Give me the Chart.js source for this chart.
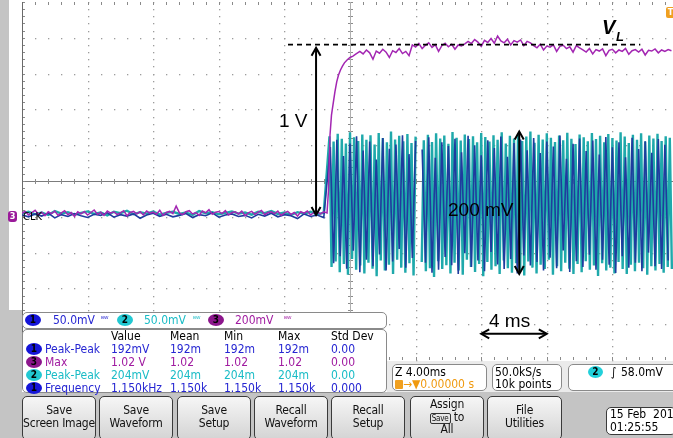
<!DOCTYPE html>
<html><head><meta charset="utf-8">
<script src="https://cdn.jsdelivr.net/npm/chart.js@4"></script>
<style>
html,body{margin:0;padding:0;background:#fff;}
#wrap{position:relative;width:673px;height:438px;overflow:hidden;background:#fff;font-family:"DejaVu Sans Condensed","DejaVu Sans",sans-serif;}
canvas{position:absolute;left:0;top:0;}
.g{position:absolute;background:#c4c4c4;}
.t{position:absolute;white-space:nowrap;line-height:14px;font-size:12px;}
.box{position:absolute;background:#fff;border:1px solid #8a8a8a;border-radius:5px;box-sizing:border-box;}
.btn{position:absolute;top:396px;height:44px;border:1.5px solid #3a3a3a;border-radius:5px;background:linear-gradient(#f6f6f6,#d4d4d4);box-sizing:border-box;text-align:center;font-size:12px;line-height:12.5px;padding-top:7px;color:#111;white-space:nowrap;letter-spacing:-0.2px;}
.ov{position:absolute;border-radius:50%;width:16px;height:12px;font-size:10px;line-height:12px;text-align:center;font-weight:bold;color:#000;}
.ann{position:absolute;font-family:"Liberation Sans",Arial,sans-serif;font-size:19px;color:#000;white-space:nowrap;line-height:20px;}
.b{color:#2626d2}.m{color:#a01aa0}.c{color:#19bcc6}
</style></head>
<body><div id="wrap">
<div class="g" style="left:0;top:0;width:9px;height:438px"></div>
<div class="g" style="left:0;top:310px;width:22px;height:128px"></div>
<div style="position:absolute;left:387px;top:361px;width:286px;height:31px;background:#ebebeb"></div>
<div class="g" style="left:0;top:392px;width:673px;height:46px"></div>
<canvas id="c" width="673" height="438"></canvas>

<!-- markers -->
<div style="position:absolute;left:8px;top:211px;width:9px;height:11px;background:#9a1a9a;border-radius:3px;color:#fff;font-size:9px;line-height:11px;text-align:center;font-weight:bold">3</div>
<div class="t" style="left:23px;top:210px;font-size:11px;line-height:13px;color:#000">CLK</div>
<div style="position:absolute;left:666px;top:7px;width:9px;height:11px;background:#f0a020;border-radius:2px;color:#fff;font-size:9px;line-height:11px;text-align:center;font-weight:bold">T</div>

<!-- annotations -->
<div class="ann" style="left:279px;top:111px">1 V</div>
<div class="ann" style="left:448px;top:200px">200 mV</div>
<div class="ann" style="left:489px;top:311px">4 ms</div>
<div class="ann" style="left:602px;top:17px;font-weight:bold;font-style:italic;font-size:20px">V</div>
<div class="ann" style="left:616px;top:27px;font-weight:bold;font-style:italic;font-size:13px">L</div>

<!-- channel box -->
<div class="box" style="left:22px;top:312px;width:365px;height:17px"></div>
<div class="ov" style="left:25px;top:314px;background:#1515d8">1</div>
<div class="t b" style="left:53px;top:313px">50.0mV</div>
<div class="t b" style="left:101px;top:313px;font-size:8px">ᴮᵂ</div>
<div class="ov" style="left:117px;top:314px;background:#22c8d2">2</div>
<div class="t c" style="left:144px;top:313px">50.0mV</div>
<div class="t c" style="left:193px;top:313px;font-size:8px">ᴮᵂ</div>
<div class="ov" style="left:208px;top:314px;background:#8c168c">3</div>
<div class="t m" style="left:235px;top:313px">200mV</div>
<div class="t m" style="left:284px;top:313px;font-size:8px">ᴮᵂ</div>

<!-- measurement table -->
<div class="box" style="left:22px;top:329px;width:365px;height:64px"></div>
<div class="t" style="left:111px;top:329px">Value</div>
<div class="t" style="left:170px;top:329px">Mean</div>
<div class="t" style="left:224px;top:329px">Min</div>
<div class="t" style="left:278px;top:329px">Max</div>
<div class="t" style="left:331px;top:329px">Std Dev</div>

<div class="ov" style="left:26px;top:343px;background:#1515d8">1</div>
<div class="t b" style="left:45px;top:342px">Peak-Peak</div>
<div class="t b" style="left:111px;top:342px">192mV</div>
<div class="t b" style="left:170px;top:342px">192m</div>
<div class="t b" style="left:224px;top:342px">192m</div>
<div class="t b" style="left:278px;top:342px">192m</div>
<div class="t b" style="left:331px;top:342px">0.00</div>

<div class="ov" style="left:26px;top:356px;background:#8c168c">3</div>
<div class="t m" style="left:45px;top:355px">Max</div>
<div class="t m" style="left:111px;top:355px">1.02 V</div>
<div class="t m" style="left:170px;top:355px">1.02</div>
<div class="t m" style="left:224px;top:355px">1.02</div>
<div class="t m" style="left:278px;top:355px">1.02</div>
<div class="t m" style="left:331px;top:355px">0.00</div>

<div class="ov" style="left:26px;top:369px;background:#22c8d2">2</div>
<div class="t c" style="left:45px;top:368px">Peak-Peak</div>
<div class="t c" style="left:111px;top:368px">204mV</div>
<div class="t c" style="left:170px;top:368px">204m</div>
<div class="t c" style="left:224px;top:368px">204m</div>
<div class="t c" style="left:278px;top:368px">204m</div>
<div class="t c" style="left:331px;top:368px">0.00</div>

<div class="ov" style="left:26px;top:382px;background:#1515d8">1</div>
<div class="t b" style="left:45px;top:381px">Frequency</div>
<div class="t b" style="left:111px;top:381px">1.150kHz</div>
<div class="t b" style="left:170px;top:381px">1.150k</div>
<div class="t b" style="left:224px;top:381px">1.150k</div>
<div class="t b" style="left:278px;top:381px">1.150k</div>
<div class="t b" style="left:331px;top:381px">0.000</div>

<!-- right status boxes -->
<div class="box" style="left:392px;top:364px;width:95px;height:27px"></div>
<div class="t" style="left:395px;top:365px">Z 4.00ms</div>
<div class="t" style="left:395px;top:377px;color:#f09a10"><span style="display:inline-block;width:8px;height:9px;background:#f0a020;border-radius:1px;vertical-align:-1px"></span>→▼0.00000 s</div>
<div class="box" style="left:492px;top:364px;width:70px;height:27px"></div>
<div class="t" style="left:495px;top:365px">50.0kS/s</div>
<div class="t" style="left:495px;top:377px">10k points</div>
<div class="box" style="left:568px;top:364px;width:110px;height:27px"></div>
<div class="ov" style="left:588px;top:366px;background:#22d0da;width:15px">2</div>
<div class="t" style="left:611px;top:365px;font-style:italic">∫</div>
<div class="t" style="left:621px;top:365px">58.0mV</div>

<!-- buttons -->
<div class="btn" style="left:22px;width:74px">Save<br>Screen Image</div>
<div class="btn" style="left:99px;width:74px">Save<br>Waveform</div>
<div class="btn" style="left:177px;width:74px">Save<br>Setup</div>
<div class="btn" style="left:254px;width:74px">Recall<br>Waveform</div>
<div class="btn" style="left:331px;width:74px">Recall<br>Setup</div>
<div class="btn" style="left:410px;width:74px;padding-top:1px">Assign<br><span style="font-size:8px;border:1px solid #333;border-radius:2px;padding:0 1px;line-height:9px">Save</span> to<br>All</div>
<div class="btn" style="left:487px;width:75px">File<br>Utilities</div>
<div class="box" style="left:606px;top:407px;width:70px;height:28px;border:1.5px solid #3a3a3a"></div>
<div class="t" style="left:610px;top:407px">15 Feb &nbsp;2014</div>
<div class="t" style="left:610px;top:420px">01:25:55</div>
</div>

<script>
// ---- data (x in ms, y in screen divisions) ----
const tStartBase = -20;
const magBaseStep = 0.2;
const magBase = [-0.90,-0.85,-0.95,-0.88,-0.82,-0.93,-0.87,-0.97,-0.86,-0.91,
-0.84,-0.96,-0.89,-0.83,-0.94,-0.88,-0.99,-0.86,-0.92,-0.85,
-0.95,-0.88,-0.81,-0.93,-0.87,-0.96,-0.84,-0.90,-0.86,-0.94,
-0.89,-0.83,-0.97,-0.88,-0.85,-0.92,-0.86,-0.95,-0.84,-0.90,
-0.87,-0.93,-0.82,-0.96,-0.88,-0.85,-0.91,-0.70,-0.89,-0.94,
-0.86,-0.83,-0.92,-0.88,-0.96,-0.84,-0.89,-0.80,-0.93,-0.87,
-0.85,-0.91,-0.83,-0.95,-0.88,-0.86,-0.92,-0.84,-0.97,-0.89,
-0.85,-0.93,-0.87,-0.82,-0.94,-0.88,-0.86,-0.91,-0.84,-0.96,
-0.89,-0.85,-0.93,-0.88,-0.98,-0.86,-0.90,-0.84,-0.95,-0.88,
-0.87,-0.92,-0.86,-0.89];
const magRiseT = [-1.31,-1.22,-1.13,-1.02,-0.92,-0.81,-0.70,-0.58,-0.46,-0.34,-0.18,0.00,0.18,0.37];
const magRiseY = [-0.25,1.28,1.84,2.18,2.49,2.77,2.96,3.10,3.21,3.30,3.38,3.45,3.49,3.55];
const magPlateauStart = 0.6, magPlateauStep = 0.2;
const magPlateau = [3.62,3.55,3.66,3.58,3.40,3.63,3.57,3.68,3.60,3.45,3.64,3.59,3.70,3.56,3.62,3.50,
3.80,3.74,3.84,3.70,3.79,3.86,3.73,3.81,3.62,3.78,3.85,3.75,3.82,3.68,3.80,3.77,3.83,
3.90,3.84,3.95,3.88,3.76,3.93,3.87,3.98,3.85,4.05,3.91,3.86,3.96,3.80,3.92,3.88,3.94,3.78,3.90,3.86,
3.78,3.72,3.82,3.66,3.77,3.74,3.80,3.62,3.76,3.79,3.70,3.75,3.60,3.78,3.72,
3.66,3.60,3.70,3.55,3.67,3.63,3.69,3.50,3.65,3.68,3.58,3.66,3.62,3.70,3.54,3.64,3.67,3.60,3.68,3.52,3.65,3.63,3.69,3.58,3.66,3.62,3.67,3.64];

const baseStep = 0.4;
const cyanBase = [-0.90,-0.86,-0.93,-0.88,-0.95,-0.84,-0.91,-0.87,-0.94,-0.89,
-0.85,-0.92,-0.88,-0.96,-0.86,-0.90,-0.83,-0.93,-0.87,-0.91,
-0.85,-0.94,-0.89,-0.86,-0.92,-0.88,-0.95,-0.84,-0.90,-0.87,
-0.93,-0.89,-0.85,-0.91,-0.88,-0.94,-0.86,-0.90,-0.84,-0.92,
-0.88,-0.95,-0.87,-0.91,-0.86,-0.93,-0.89];
const blueBase = [-0.95,-1.00,-0.92,-0.98,-0.90,-1.03,-0.94,-0.99,-0.91,-0.97,
-1.02,-0.93,-0.96,-0.89,-1.01,-0.94,-0.98,-0.92,-1.04,-0.95,
-0.90,-0.99,-0.93,-1.00,-0.96,-0.91,-1.02,-0.94,-0.97,-0.89,
-1.01,-0.95,-0.92,-0.99,-0.96,-1.03,-0.93,-0.98,-0.90,-1.00,
-0.94,-0.97,-1.05,-0.92,-0.99,-0.95,-1.02];

const cyanBurstStart = -1.25, cyanBurstStep = 0.125;
const cyanHi = [1.25,1.10,1.32,1.18,1.05,1.36,1.22,1.12,1.30,1.15,
1.28,1.02,1.34,1.20,1.08,1.38,1.16,1.26,1.11,1.31,
1.06,1.24,null,1.14,1.29,1.09,1.33,1.19,1.27,1.04,
1.37,1.21,1.13,1.30,1.17,1.25,1.08,1.34,1.23,1.10,
1.28,1.15,1.36,1.05,1.26,1.19,1.32,1.12,1.24,1.38,
1.07,1.29,1.16,1.33,1.21,1.09,1.27,1.14,1.35,1.18,
1.03,1.30,1.22,1.11,1.34,1.17,1.26,1.08,1.31,1.20,
1.13,1.36,1.24,1.06,1.29,1.15,1.33,1.10,1.27,1.19,
1.32,1.12,1.25,1.21];
const cyanLo = [-2.40,-2.25,-2.55,-2.32,-2.62,-2.18,-2.48,-2.36,-2.58,-2.28,
-2.45,-2.66,-2.22,-2.50,-2.34,-2.60,-2.20,-2.42,-2.56,-2.30,
-2.64,null,-2.26,-2.52,-2.44,-2.68,-2.24,-2.46,-2.35,-2.58,
-2.28,-2.50,-2.62,-2.20,-2.40,-2.54,-2.32,-2.66,-2.26,-2.48,
-2.38,-2.60,-2.22,-2.44,-2.56,-2.30,-2.50,-2.64,-2.25,-2.42,
-2.58,-2.34,-2.46,-2.20,-2.62,-2.38,-2.52,-2.28,-2.45,-2.60,
-2.32,-2.55,-2.24,-2.48,-2.36,-2.65,-2.30,-2.50,-2.42,-2.58,
-2.26,-2.46,-2.60,-2.34,-2.52,-2.28,-2.44,-2.62,-2.38,-2.50,
-2.32,-2.56,-2.40,-2.46];

const blueBurstStart = -1.2, blueBurstStep = 0.2;
const blueHi = [0.95,1.15,0.70,1.05,1.25,0.85,1.10,0.60,1.20,0.90,
1.02,1.28,0.75,1.12,0.88,1.22,0.65,1.08,0.98,1.18,
0.80,1.26,1.00,0.72,1.14,0.92,1.24,0.68,1.06,1.16,
0.86,1.20,0.78,1.10,0.96,1.27,0.62,1.04,1.19,0.84,
1.13,0.74,1.23,0.94,1.08,0.66,1.21,0.89,1.11,0.79,
1.17,1.01];
const blueLo = [-2.30,-2.10,-2.45,-1.95,-2.55,-2.20,-2.38,-2.05,-2.50,-2.25,
-1.90,-2.42,-2.15,null,-2.28,-2.56,-2.48,-2.12,-2.35,-2.60,
-2.02,-2.40,-2.22,-2.52,-1.98,-2.33,-2.46,-2.18,-2.58,-2.08,
-2.36,-2.26,-2.50,-2.14,-2.44,-1.94,-2.54,-2.24,-2.40,-2.06,
-2.48,-2.20,-2.34,-2.57,-2.10,-2.42,-2.28,-2.52,-2.00,-2.38,
-2.46,-2.22];

// annotation values
const VL = 3.81;
const arrow1 = {t:-2.07, y0:-0.95, y1:3.72};
const arrow2 = {t:10.32, y0:-2.60, y1:1.38};
const arrow3 = {y:-4.27, t0:8.0, t1:12.0};
const dashT = [-3.78, 17.7];

// ---- build ----
function series(start, step, vals){ return vals.map((v,i)=>({x:start+step*i, y:v})); }
function interleave(hi, lo){ const o=[]; for(let i=0;i<hi.length;i++){ o.push(hi[i]); if(i<lo.length) o.push(lo[i]); } return o; }

const magData = series(tStartBase, magBaseStep, magBase)
  .concat(magRiseT.map((t,i)=>({x:t, y:magRiseY[i]})))
  .concat(series(magPlateauStart, magPlateauStep, magPlateau));
const cyanData = series(tStartBase, baseStep, cyanBase)
  .concat(series(cyanBurstStart, cyanBurstStep, interleave(cyanHi, cyanLo)));
const blueData = series(tStartBase, baseStep, blueBase)
  .concat(series(blueBurstStart, blueBurstStep, interleave(blueHi, blueLo)));

const graticule = {
  id:'graticule',
  beforeDatasetsDraw(chart){
    const {ctx, chartArea:a, scales:{x, y}} = chart;
    ctx.save();
    ctx.fillStyle = '#9c9c9c';
    for(let k=1;k<10;k++){
      if(k===5) continue;
      const px = Math.round(x.getPixelForValue(-20+4*k));
      for(let m=0;m<=50;m++){ const py=y.getPixelForValue(-5+0.2*m); ctx.fillRect(px, Math.round(py), 1.3, 1.3); }
      const py = Math.round(y.getPixelForValue(-5+k));
      for(let m=0;m<=50;m++){ const qx=x.getPixelForValue(-20+0.8*m); ctx.fillRect(Math.round(qx), py, 1.3, 1.3); }
    }
    ctx.strokeStyle = '#7c7c7c'; ctx.lineWidth = 1;
    const y0 = Math.round(y.getPixelForValue(0))+0.5, x0 = Math.round(x.getPixelForValue(0))+0.5;
    ctx.beginPath(); ctx.moveTo(a.left, y0); ctx.lineTo(a.right, y0); ctx.stroke();
    ctx.strokeStyle = '#8a8a8a';
    ctx.beginPath();
    for(let m=0;m<=50;m++){ const qx=Math.round(x.getPixelForValue(-20+0.8*m))+0.5; ctx.moveTo(qx,y0-2.5); ctx.lineTo(qx,y0+2.5);
      const tt=Math.round(y.getPixelForValue(5)); ctx.moveTo(qx,tt); ctx.lineTo(qx,tt+3);
      const bb=Math.round(y.getPixelForValue(-5)); ctx.moveTo(qx,bb); ctx.lineTo(qx,bb-3); }
    for(let m=0;m<=50;m++){ const py=Math.round(y.getPixelForValue(-5+0.2*m))+0.5; ctx.moveTo(x0-2.5,py); ctx.lineTo(x0+2.5,py);
      const ll=Math.round(x.getPixelForValue(-20)); ctx.moveTo(ll,py); ctx.lineTo(ll+3,py); }
    ctx.stroke();
    ctx.strokeStyle='#b0b0b0';
    ctx.beginPath(); ctx.moveTo(x0, a.top); ctx.lineTo(x0, a.bottom); ctx.stroke();
    ctx.strokeStyle='#6a6a6a';
    const lx = Math.round(x.getPixelForValue(-20))+0.5;
    ctx.beginPath(); ctx.moveTo(lx, a.top); ctx.lineTo(lx, a.bottom); ctx.stroke();
    ctx.restore();
  }
};

function head(ctx, tx, ty, dx, dy){
  const L=8, W=4.5, px=-dy, py=dx;
  ctx.beginPath();
  ctx.moveTo(tx-dx*L+px*W, ty-dy*L+py*W); ctx.lineTo(tx,ty); ctx.lineTo(tx-dx*L-px*W, ty-dy*L-py*W);
  ctx.stroke();
}
const annot = {
  id:'annot',
  afterDatasetsDraw(chart){
    const {ctx, scales:{x, y}} = chart;
    ctx.save();
    ctx.strokeStyle='#000'; ctx.lineWidth=1.8;
    ctx.setLineDash([5,4]);
    ctx.beginPath(); ctx.moveTo(x.getPixelForValue(dashT[0]), y.getPixelForValue(VL)); ctx.lineTo(x.getPixelForValue(dashT[1]), y.getPixelForValue(VL)); ctx.stroke();
    ctx.setLineDash([]);
    ctx.lineWidth=2;
    for(const ar of [arrow1, arrow2]){
      const ax=x.getPixelForValue(ar.t), ya=y.getPixelForValue(ar.y1), yb=y.getPixelForValue(ar.y0);
      ctx.beginPath(); ctx.moveTo(ax, ya+1); ctx.lineTo(ax, yb-1); ctx.stroke();
      head(ctx, ax, ya, 0, -1); head(ctx, ax, yb, 0, 1);
    }
    const hy=y.getPixelForValue(arrow3.y), xa=x.getPixelForValue(arrow3.t0), xb=x.getPixelForValue(arrow3.t1);
    ctx.beginPath(); ctx.moveTo(xa+1, hy); ctx.lineTo(xb-1, hy); ctx.stroke();
    head(ctx, xa, hy, -1, 0); head(ctx, xb, hy, 1, 0);
    ctx.restore();
  }
};

new Chart(document.getElementById('c'), {
  type:'line',
  data:{datasets:[
    {label:'CH3', data:magData, borderColor:'#a326b2', borderWidth:1.5, order:0},
    {label:'CH1', data:blueData, borderColor:'#1f3c9e', borderWidth:1.6, order:1},
    {label:'CH2', data:cyanData, borderColor:'#1fa9ab', borderWidth:2.4, order:2}
  ]},
  options:{
    responsive:false, animation:false, devicePixelRatio:1,
    layout:{padding:{left:22, top:2, right:0, bottom:78}},
    elements:{point:{radius:0}, line:{tension:0}},
    scales:{
      x:{type:'linear', min:-20, max:19.695, display:false},
      y:{type:'linear', min:-5, max:5, display:false}
    },
    plugins:{legend:{display:false}, tooltip:{enabled:false}}
  },
  plugins:[graticule, annot]
});
</script>
</body></html>
